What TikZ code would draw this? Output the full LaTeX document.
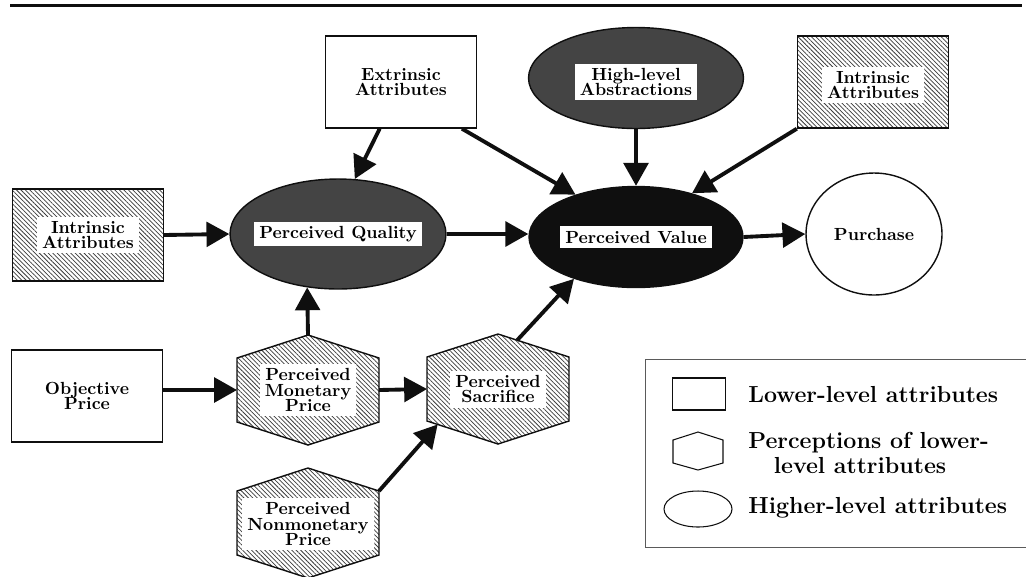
\documentclass[tikz,border=0pt]{standalone}
\usepackage{tikz}
\usetikzlibrary{shapes.geometric, arrows.meta, positioning, calc, patterns.meta}
\definecolor{inkblack}{RGB}{15,15,15}
\definecolor{shadegray}{RGB}{68,68,68}
\definecolor{hatchgray}{RGB}{60,60,60}
\definecolor{rulegray}{RGB}{90,90,90}
\tikzset{
    boxfont/.style={font=\fontsize{10}{9}\selectfont\bfseries},
    hatchfill/.style={preaction={fill=white}, pattern={Lines[angle=-45, distance=1.8pt, line width=0.42pt]}, pattern color=hatchgray},
    lowbox/.style={rectangle, draw=inkblack, line width=0.8pt, minimum width=3.02cm, minimum height=1.84cm, inner sep=0pt, align=center, boxfont},
    highell/.style={ellipse, draw=inkblack, line width=0.8pt, inner sep=0pt, align=center, boxfont},
    hexshape/.style={draw=inkblack, line width=0.8pt, line join=miter, hatchfill},
    tag/.style={rectangle, fill=white, inner xsep=3pt, inner ysep=2.5pt, align=center, boxfont},
    arr/.style={-{Triangle[length=13pt, width=14pt]}, line width=2.2pt, inkblack},
    legline/.style={draw=rulegray, line width=0.5pt},
    legtext/.style={anchor=west, inner sep=0pt, align=left, font=\fontsize{13.2}{13.8}\selectfont\bfseries}
}

\begin{document}
\begin{tikzpicture}[x=0.02cm, y=-0.02cm]
\useasboundingbox (0,0) rectangle (1026,576);

\draw[line width=1.2pt, inkblack] (10,5.5) -- (1022,5.5);

% lower-level attributes
\node[lowbox, fill=white] (ext) at (401,82) {Extrinsic\\Attributes};
\node[lowbox, hatchfill] (intl) at (88,235) {};
\node[tag] (intl-t) at (intl) {Intrinsic\\Attributes};
\node[lowbox, hatchfill] (intr) at (873,82) {};
\node[tag] (intr-t) at ($(intr)+(0,3)$) {Intrinsic\\Attributes};
\node[lowbox, fill=white] (obj) at (87,396) {Objective\\Price};

% higher-level attributes
\node[highell, fill=shadegray, minimum width=4.32cm, minimum height=2.2cm] (pq) at (338,234) {};
\node[tag] (pq-t) at (pq) {Perceived Quality};
\node[highell, fill=shadegray, minimum width=4.3cm, minimum height=2.02cm] (hla) at (636,78) {};
\node[tag] (hla-t) at ($(hla)+(0,4)$) {High-level\\Abstractions};
\node[highell, fill=inkblack, minimum width=4.28cm, minimum height=2.02cm] (pv) at (636,237) {};
\node[tag] (pv-t) at (pv) {Perceived Value};
\node[highell, fill=white, minimum width=2.72cm, minimum height=2.44cm] (pur) at (874,234) {Purchase};

% perceptions of lower-level attributes
\foreach \n/\x/\y in {mon/308/390, sac/498/389, non/308/523} {
    \draw[hexshape] (\x,\y-55) coordinate (\n-n) -- (\x+71,\y-32) coordinate (\n-ne)
        -- (\x+71,\y+32) coordinate (\n-se) -- (\x,\y+55) coordinate (\n-s)
        -- (\x-71,\y+32) coordinate (\n-sw) -- (\x-71,\y-32) coordinate (\n-nw) -- cycle;
    \coordinate (\n-e) at (\x+71,\y);
    \coordinate (\n-w) at (\x-71,\y);
}
\node[tag] (mon-t) at (308,390) {Perceived\\Monetary\\Price};
\node[tag] (sac-t) at (498,389) {Perceived\\Sacrifice};
\node[tag] (non-t) at (308,524) {Perceived\\Nonmonetary\\Price};

% connectors
\draw[arr] (intl.east) -- (pq.west);
\draw[arr] ($(ext.south west)!0.36!(ext.south east)$) -- (pq.73);
\draw[arr] ($(ext.south west)!0.9!(ext.south east)$) -- (pv.145);
\draw[arr] (hla.south) -- (pv.north);
\draw[arr] (intr.south west) -- (pv.38);
\draw[arr] (pq.east) -- (pq.east -| pv.west);
\draw[arr] (pv.east) -- (pur.west);
\draw[arr] (mon-n) -- (pq.240);
\draw[arr] (obj.east |- mon-w) -- (mon-w);
\draw[arr] (mon-e) -- (sac-w);
\draw[arr] (non-ne) -- ($(sac-sw)!0.15!(sac-s)$);
\draw[arr] ($(sac-n)!0.27!(sac-ne)$) -- (pv.214);

% legend
\draw[legline] (1026,359) -| (645,547) -- (1026,547);
\node[rectangle, draw=inkblack, line width=0.6pt, minimum width=1.06cm, minimum height=0.64cm, inner sep=0pt] (lg-box) at (699,394) {};
\draw[draw=inkblack, line width=0.6pt] (698,432) -- (723,440) -- (723,463) -- (698,470) -- (673,463) -- (673,440) -- cycle;
\node[ellipse, draw=inkblack, line width=0.6pt, minimum width=1.36cm, minimum height=0.72cm, inner sep=0pt] (lg-ell) at (698,509) {};
\node[legtext] (lg-low) at (748,395) {Lower-level attributes};
\node[legtext] (lg-per) at (748,453) {Perceptions of lower-\\\hspace*{1.1em}level attributes};
\node[legtext] (lg-high) at (748,508) {Higher-level attributes};

\end{tikzpicture}
\end{document}
